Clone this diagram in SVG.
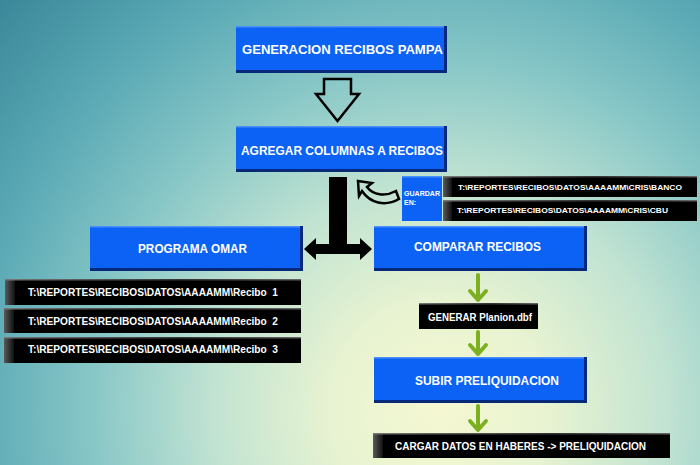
<svg xmlns="http://www.w3.org/2000/svg" width="700" height="465" viewBox="0 0 700 465">
<defs>
<radialGradient id="bg" gradientUnits="userSpaceOnUse" cx="440" cy="410" r="600">
<stop offset="0" stop-color="#f5f8d2"/>
<stop offset="0.18" stop-color="#e8f3d1"/>
<stop offset="0.38" stop-color="#c1e3d2"/>
<stop offset="0.58" stop-color="#88c7c7"/>
<stop offset="0.78" stop-color="#5aa9b5"/>
<stop offset="1" stop-color="#3a8899"/>
</radialGradient>
<linearGradient id="bev" x1="0" y1="0" x2="1" y2="0">
<stop offset="0" stop-color="#5a5a5a"/>
<stop offset="1" stop-color="#111"/>
</linearGradient>
<linearGradient id="topl" x1="0" y1="0" x2="1" y2="0">
<stop offset="0" stop-color="#777"/>
<stop offset="0.6" stop-color="#333"/>
<stop offset="1" stop-color="#666"/>
</linearGradient>
<style>
.bo{fill:#06297a}
.bi{fill:#0c62f4}
.bh{fill:#4a8fff}
.kb{fill:#000}
.wt{fill:#fff;font-family:"Liberation Sans",Arial,sans-serif;font-weight:bold;white-space:pre}
.b12{font-size:12.5px}
.k10{font-size:10px}
.k8{font-size:8px}
.ga{stroke:#7db021;stroke-width:4;fill:none;stroke-linecap:round;stroke-linejoin:round}
</style>
</defs>
<rect width="700" height="465" fill="url(#bg)"/>

<g id="connectors">
<path d="M324,79 H351 V94 H359 L337.5,121 L316,94 H324 Z" fill="none" stroke="#000" stroke-width="2.5" stroke-linejoin="miter"/>
<path d="M329,177 H347 V244 H360 V238 L372,249 L360,260 V254 H316 V260 L304,249 L316,238 V244 H329 Z" fill="#000"/>
<path d="M358,181 L372,183 L367,187 C373,195 385,197 396,191 L399,199 C385,207 370,203 362,191 L359,196 Z" fill="none" stroke="#000" stroke-width="2.5" stroke-linejoin="miter"/>
<path class="ga" d="M478,275 V300 M470,291 L478,300 L486,291"/>
<path class="ga" d="M478,332 V354 M470,345 L478,354 L486,345"/>
<path class="ga" d="M478,406 V430 M470,421 L478,430 L486,421"/>
</g>

<g id="n-generacion">
<rect class="bo" x="236" y="26" width="211" height="47"/>
<rect class="bi" x="236" y="26" width="208" height="44"/>
<rect class="bh" x="236" y="26" width="208" height="1.5"/>
<text class="wt b12" x="242" y="54" textLength="201" lengthAdjust="spacingAndGlyphs">GENERACION RECIBOS PAMPA</text>
</g>

<g id="n-agregar">
<rect class="bo" x="236" y="126" width="211" height="46"/>
<rect class="bi" x="236" y="126" width="208" height="43"/>
<rect class="bh" x="236" y="126" width="208" height="1.5"/>
<text class="wt b12" x="241" y="155" textLength="202" lengthAdjust="spacingAndGlyphs">AGREGAR COLUMNAS A RECIBOS</text>
</g>

<g id="n-guardar">
<rect class="bi" x="402" y="176" width="40" height="45"/>
<rect class="bh" x="402" y="176" width="40" height="1.5"/>
<text class="wt" x="404" y="196" font-size="7" textLength="36" lengthAdjust="spacingAndGlyphs">GUARDAR</text>
<text class="wt" x="404" y="205" font-size="7">EN:</text>
</g>

<g id="n-banco">
<rect class="kb" x="443" y="176" width="254" height="21"/>
<rect x="443" y="176" width="9" height="21" fill="url(#bev)"/>
<rect x="443" y="176" width="254" height="1.5" fill="url(#topl)"/>
<text class="wt k8" x="458" y="190" textLength="224" lengthAdjust="spacingAndGlyphs">T:\REPORTES\RECIBOS\DATOS\AAAAMM\CRIS\BANCO</text>
</g>

<g id="n-cbu">
<rect class="kb" x="443" y="200" width="254" height="21"/>
<rect x="443" y="200" width="9" height="21" fill="url(#bev)"/>
<rect x="443" y="200" width="254" height="1.5" fill="url(#topl)"/>
<text class="wt k8" x="457" y="213" textLength="211" lengthAdjust="spacingAndGlyphs">T:\REPORTES\RECIBOS\DATOS\AAAAMM\CRIS\CBU</text>
</g>

<g id="n-programa">
<rect class="bo" x="90" y="226" width="213" height="45"/>
<rect class="bi" x="90" y="226" width="210" height="42"/>
<rect class="bh" x="90" y="226" width="210" height="1.5"/>
<text class="wt b12" x="138" y="253" textLength="109" lengthAdjust="spacingAndGlyphs">PROGRAMA OMAR</text>
</g>

<g id="n-comparar">
<rect class="bo" x="374" y="226" width="213" height="45"/>
<rect class="bi" x="374" y="226" width="210" height="42"/>
<rect class="bh" x="374" y="226" width="210" height="1.5"/>
<text class="wt b12" x="414" y="251" textLength="127" lengthAdjust="spacingAndGlyphs">COMPARAR RECIBOS</text>
</g>

<g id="n-recibo1">
<rect class="kb" x="5" y="279" width="296" height="26"/>
<rect x="5" y="279" width="10" height="26" fill="url(#bev)"/>
<rect x="5" y="279" width="296" height="1.5" fill="url(#topl)"/>
<text class="wt k10" x="28" y="296" textLength="250" lengthAdjust="spacingAndGlyphs" xml:space="preserve">T:\REPORTES\RECIBOS\DATOS\AAAAMM\Recibo  1</text>
</g>

<g id="n-recibo2">
<rect class="kb" x="4" y="308" width="297" height="25"/>
<rect x="4" y="308" width="10" height="25" fill="url(#bev)"/>
<rect x="4" y="308" width="297" height="1.5" fill="url(#topl)"/>
<text class="wt k10" x="28" y="325" textLength="250" lengthAdjust="spacingAndGlyphs" xml:space="preserve">T:\REPORTES\RECIBOS\DATOS\AAAAMM\Recibo  2</text>
</g>

<g id="n-recibo3">
<rect class="kb" x="4" y="337" width="297" height="26"/>
<rect x="4" y="337" width="10" height="26" fill="url(#bev)"/>
<rect x="4" y="337" width="297" height="1.5" fill="url(#topl)"/>
<text class="wt k10" x="28" y="353" textLength="250" lengthAdjust="spacingAndGlyphs" xml:space="preserve">T:\REPORTES\RECIBOS\DATOS\AAAAMM\Recibo  3</text>
</g>

<g id="n-generar">
<rect class="kb" x="419" y="303" width="119" height="26"/>
<rect x="419" y="303" width="119" height="1.5" fill="url(#topl)"/>
<text class="wt k10" x="428" y="321" textLength="104" lengthAdjust="spacingAndGlyphs">GENERAR Planion.dbf</text>
</g>

<g id="n-subir">
<rect class="bo" x="374" y="357" width="213" height="46"/>
<rect class="bi" x="374" y="357" width="210" height="43"/>
<rect class="bh" x="374" y="357" width="210" height="1.5"/>
<text class="wt b12" x="415" y="385" textLength="144" lengthAdjust="spacingAndGlyphs">SUBIR PRELIQUIDACION</text>
</g>

<g id="n-cargar">
<rect class="kb" x="373" y="433" width="297" height="25"/>
<rect x="373" y="433" width="10" height="25" fill="url(#bev)"/>
<rect x="373" y="433" width="297" height="1.5" fill="url(#topl)"/>
<text class="wt k10" x="395" y="450" textLength="251" lengthAdjust="spacingAndGlyphs">CARGAR DATOS EN HABERES -&gt; PRELIQUIDACION</text>
</g>
</svg>
